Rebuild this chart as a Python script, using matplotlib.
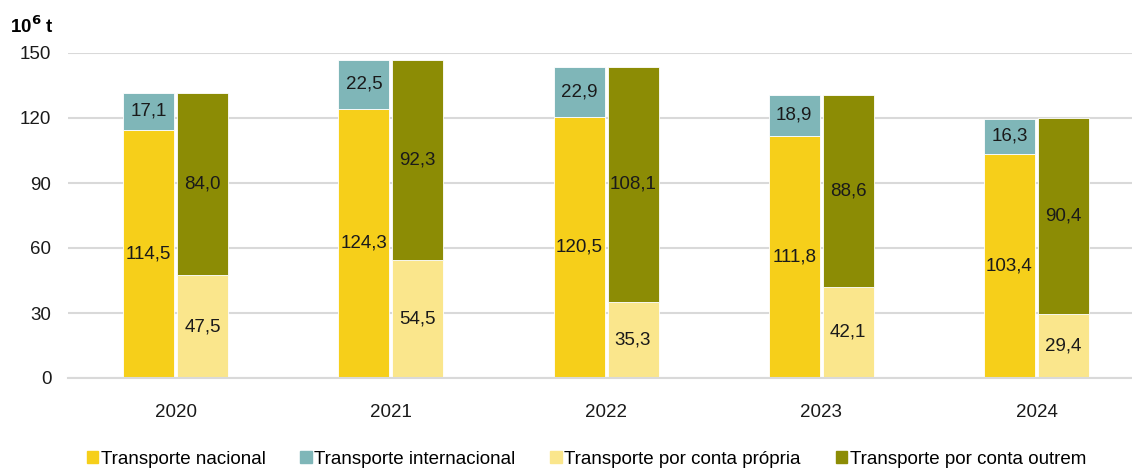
import matplotlib.pyplot as plt
from matplotlib.patches import Patch
import numpy as np

plt.rcParams['font.family'] = ['Liberation Sans', 'DejaVu Sans']

anos = ["2020", "2021", "2022", "2023", "2024"]
nacional = [114.5, 124.3, 120.5, 111.8, 103.4]
internacional = [17.1, 22.5, 22.9, 18.9, 16.3]
conta_propria = [47.5, 54.5, 35.3, 42.1, 29.4]
conta_outrem = [84.0, 92.3, 108.1, 88.6, 90.4]

c_nac = "#F6CF1A"
c_int = "#7FB6B8"
c_prop = "#FAE68C"
c_out = "#8C8C05"

x = np.arange(len(anos))
w = 0.237
off = 0.1254

fig = plt.figure(figsize=(11.32, 4.68), dpi=100)
ax = fig.add_axes([68/1132, 1 - 378/468, 1064/1132, 325/468])

b1 = ax.bar(x - off, nacional, w, color=c_nac, edgecolor="white", linewidth=0.6)
b2 = ax.bar(x - off, internacional, w, bottom=nacional, color=c_int, edgecolor="white", linewidth=0.6)
b3 = ax.bar(x + off, conta_propria, w, color=c_prop, edgecolor="white", linewidth=0.6)
b4 = ax.bar(x + off, conta_outrem, w, bottom=conta_propria, color=c_out, edgecolor="white", linewidth=0.6)

def fmt(v):
    return f"{v:.1f}".replace(".", ",")

for bars in (b1, b2, b3, b4):
    ax.bar_label(bars, labels=[fmt(b.get_height()) for b in bars], label_type="center",
                 fontsize=13.5, color="#1a1a1a")

ax.set_xlim(-0.5, 4.444)
ax.set_ylim(0, 150)
ax.set_yticks([0, 30, 60, 90, 120, 150])
ax.set_xticks(x)
ax.set_xticklabels(anos)
ax.tick_params(axis="both", length=0, labelsize=13.5, colors="#1a1a1a")
ax.tick_params(axis="x", pad=19)
ax.tick_params(axis="y", pad=12)
ax.yaxis.grid(True, color="#d9d9d9", linewidth=1.5)
ax.set_axisbelow(True)
for s in ["top", "right", "left"]:
    ax.spines[s].set_visible(False)
ax.spines["bottom"].set_color("#d9d9d9")
ax.spines["bottom"].set_linewidth(1.5)

fig.text(10/1132, 1 - 26/468, r"10$^{\mathbf{6}}$ t", fontsize=13.5, fontweight="bold", va="center")

handles = [Patch(color=c_nac), Patch(color=c_int), Patch(color=c_prop), Patch(color=c_out)]
labels = ["Transporte nacional", "Transporte internacional",
          "Transporte por conta própria", "Transporte por conta outrem"]
fig.legend(handles, labels, ncol=4, loc="center", bbox_to_anchor=(0.518, 1 - 459/468),
           frameon=False, fontsize=13.5, handlelength=0.6, handleheight=0.6,
           handletextpad=0.15, columnspacing=1.85)

fig.savefig("out.png", dpi=100)
